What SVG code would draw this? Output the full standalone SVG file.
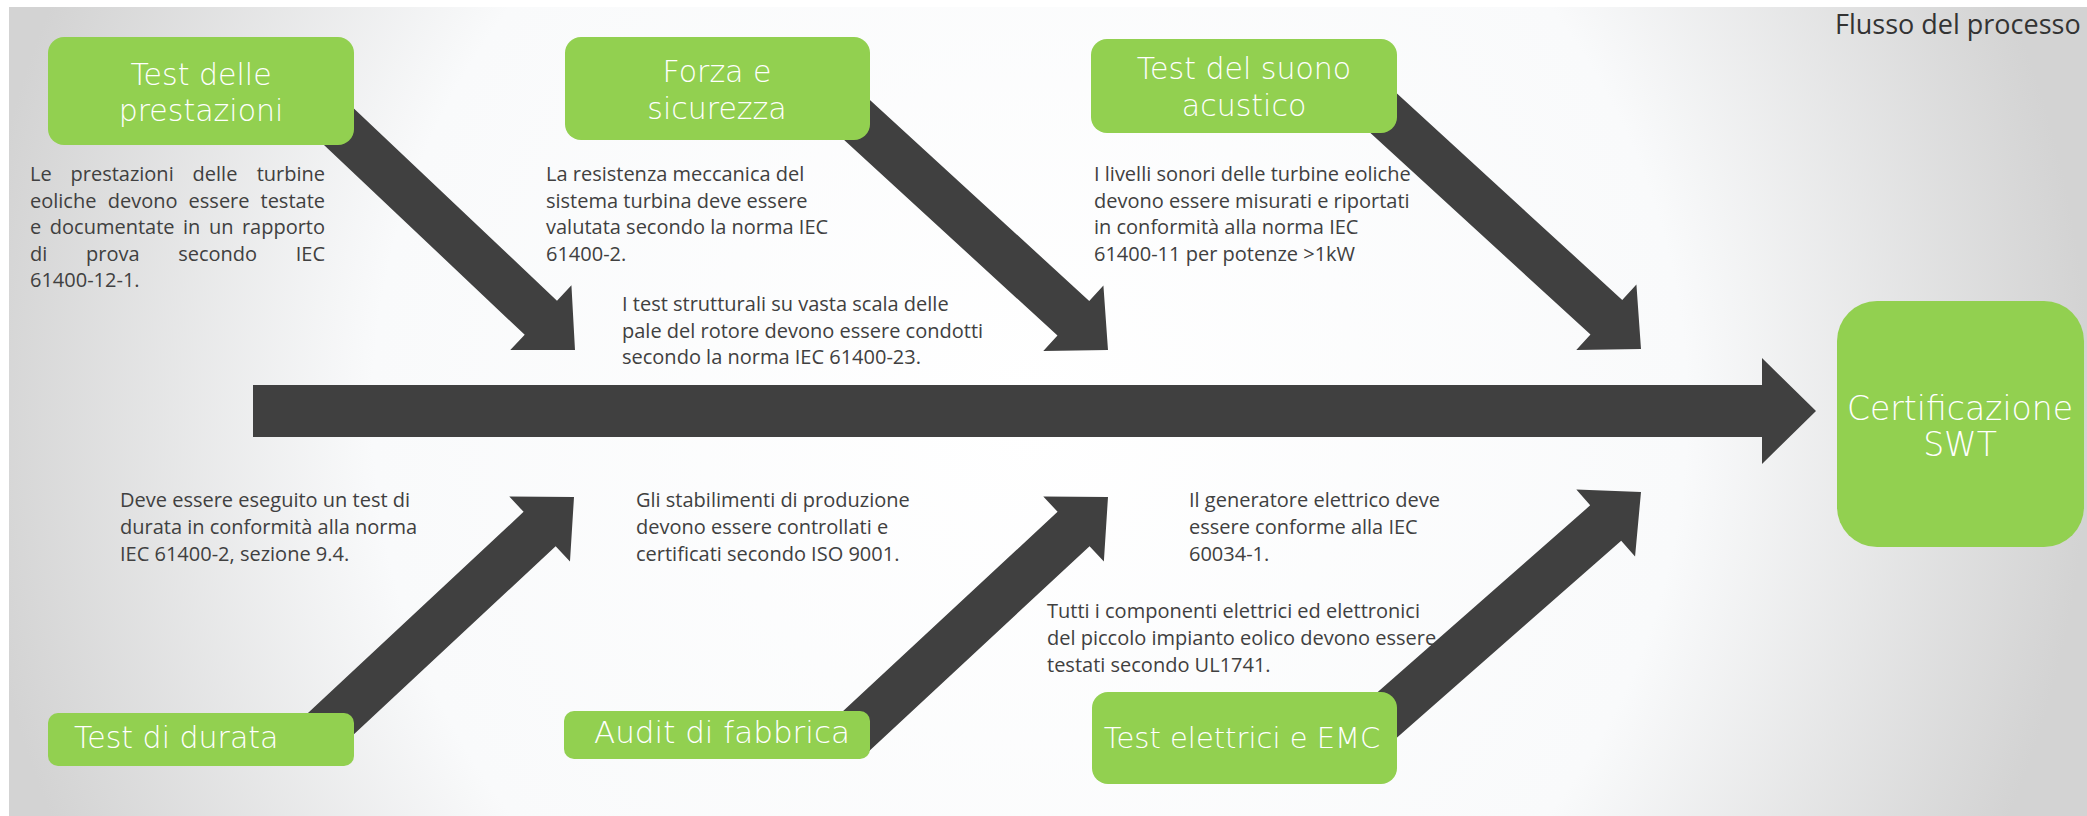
<svg xmlns="http://www.w3.org/2000/svg" width="2087" height="816" viewBox="0 0 2087 816">
<defs>
<radialGradient id="bg" gradientUnits="userSpaceOnUse" cx="1030" cy="410" r="1060">
<stop offset="0" stop-color="#ffffff"/>
<stop offset="0.62" stop-color="#f9fafb"/>
<stop offset="1" stop-color="#d3d3d3"/>
</radialGradient>
<style>
.box{fill:#92d050}
.arrow{fill:#404040}
.lbl{font-family:"DejaVu Sans","Liberation Sans",sans-serif;font-weight:200;fill:#ffffff;font-size:30px}
.mid{text-anchor:middle}
.body{font-family:"Open Sans","Liberation Sans",sans-serif;font-size:20px;fill:#404040}
.end{text-anchor:end}
.title{font-family:"Open Sans","Liberation Sans",sans-serif;font-size:27px;fill:#333333}
</style>
</defs>
<rect x="0" y="0" width="2087" height="816" fill="#ffffff"/>
<rect x="9" y="7" width="2078" height="809" fill="url(#bg)"/>
<text class="title" x="1835" y="34">Flusso del processo</text>

<g id="connectors">
<polygon class="arrow" points="253,385 1762,385 1762,358 1816,411 1762,464 1762,437 253,437"/>
<path class="arrow" transform="translate(575,350) rotate(43.4)" d="M0,0 L-47,-44.5 L-47,-23.5 L-340,-23.5 L-340,23.5 L-47,23.5 L-47,44.5 Z"/>
<path class="arrow" transform="translate(1108,350) rotate(42.5)" d="M0,0 L-47,-44.5 L-47,-23.5 L-350,-23.5 L-350,23.5 L-47,23.5 L-47,44.5 Z"/>
<path class="arrow" transform="translate(1641,349) rotate(42.5)" d="M0,0 L-47,-44.5 L-47,-23.5 L-361,-23.5 L-361,23.5 L-47,23.5 L-47,44.5 Z"/>
<path class="arrow" transform="translate(574,497) rotate(-43)" d="M0,0 L-47,-44.5 L-47,-23.5 L-347,-23.5 L-347,23.5 L-47,23.5 L-47,44.5 Z"/>
<path class="arrow" transform="translate(1108,497) rotate(-42.9)" d="M0,0 L-47,-44.5 L-47,-23.5 L-350,-23.5 L-350,23.5 L-47,23.5 L-47,44.5 Z"/>
<path class="arrow" transform="translate(1641,492) rotate(-41.3)" d="M0,0 L-47,-44.5 L-47,-23.5 L-376,-23.5 L-376,23.5 L-47,23.5 L-47,44.5 Z"/>
</g>

<g id="node-prestazioni">
<rect class="box" x="48" y="37" width="306" height="108" rx="16"/>
<text class="lbl mid" x="201" y="85">Test delle</text>
<text class="lbl mid" x="201" y="121">prestazioni</text>
<text class="body" x="30" y="181">Le</text>
<text class="body" x="70.5" y="181">prestazioni</text>
<text class="body" x="192.6" y="181">delle</text>
<text class="body end" x="325" y="181">turbine</text>
<text class="body" x="30" y="207.6">eoliche</text>
<text class="body" x="107.7" y="207.6">devono</text>
<text class="body" x="188.6" y="207.6">essere</text>
<text class="body end" x="325" y="207.6">testate</text>
<text class="body" x="30" y="234.2">e</text>
<text class="body" x="49.8" y="234.2">documentate</text>
<text class="body" x="182.9" y="234.2">in</text>
<text class="body" x="208.9" y="234.2">un</text>
<text class="body end" x="325" y="234.2">rapporto</text>
<text class="body" x="30" y="260.8">di</text>
<text class="body" x="86" y="260.8">prova</text>
<text class="body" x="178.2" y="260.8">secondo</text>
<text class="body end" x="325" y="260.8">IEC</text>
<text class="body" x="30" y="287.4">61400-12-1.</text>
</g>

<g id="node-forza">
<rect class="box" x="565" y="37" width="305" height="103" rx="16"/>
<text class="lbl mid" x="717" y="82">Forza e</text>
<text class="lbl mid" x="717" y="119">sicurezza</text>
<text class="body" x="546" y="181">La resistenza meccanica del</text>
<text class="body" x="546" y="207.6">sistema turbina deve essere</text>
<text class="body" x="546" y="234.2">valutata secondo la norma IEC</text>
<text class="body" x="546" y="260.8">61400-2.</text>
<text class="body" x="622" y="311">I test strutturali su vasta scala delle</text>
<text class="body" x="622" y="337.6">pale del rotore devono essere condotti</text>
<text class="body" x="622" y="364.2">secondo la norma IEC 61400-23.</text>
</g>

<g id="node-suono">
<rect class="box" x="1091" y="39" width="306" height="94" rx="16"/>
<text class="lbl mid" x="1244" y="79">Test del suono</text>
<text class="lbl mid" x="1244" y="116">acustico</text>
<text class="body" x="1094" y="181">I livelli sonori delle turbine eoliche</text>
<text class="body" x="1094" y="207.6">devono essere misurati e riportati</text>
<text class="body" x="1094" y="234.2">in conformità alla norma IEC</text>
<text class="body" x="1094" y="260.8">61400-11 per potenze &gt;1kW</text>
</g>

<g id="node-certificazione">
<rect class="box" x="1837" y="301" width="247" height="246" rx="40"/>
<text class="lbl mid" x="1960" y="420" style="font-size:33px">Certificazione</text>
<text class="lbl mid" x="1960" y="456" style="font-size:33px">SWT</text>
</g>

<g id="node-durata">
<rect class="box" x="48" y="713" width="306" height="53" rx="10"/>
<text class="lbl" x="74" y="748">Test di durata</text>
<text class="body" x="120" y="507">Deve essere eseguito un test di</text>
<text class="body" x="120" y="534">durata in conformità alla norma</text>
<text class="body" x="120" y="561">IEC 61400-2, sezione 9.4.</text>
</g>

<g id="node-audit">
<rect class="box" x="564" y="711" width="306" height="48" rx="10"/>
<text class="lbl" x="594" y="743" style="font-size:31px">Audit di fabbrica</text>
<text class="body" x="636" y="507">Gli stabilimenti di produzione</text>
<text class="body" x="636" y="534">devono essere controllati e</text>
<text class="body" x="636" y="561">certificati secondo ISO 9001.</text>
</g>

<g id="node-elettrici">
<rect class="box" x="1092" y="692" width="305" height="92" rx="16"/>
<text class="lbl mid" x="1242" y="748" style="font-size:29px">Test elettrici e EMC</text>
<text class="body" x="1189" y="507">Il generatore elettrico deve</text>
<text class="body" x="1189" y="534">essere conforme alla IEC</text>
<text class="body" x="1189" y="561">60034-1.</text>
<text class="body" x="1047" y="618">Tutti i componenti elettrici ed elettronici</text>
<text class="body" x="1047" y="645">del piccolo impianto eolico devono essere</text>
<text class="body" x="1047" y="672">testati secondo UL1741.</text>
</g>
</svg>
